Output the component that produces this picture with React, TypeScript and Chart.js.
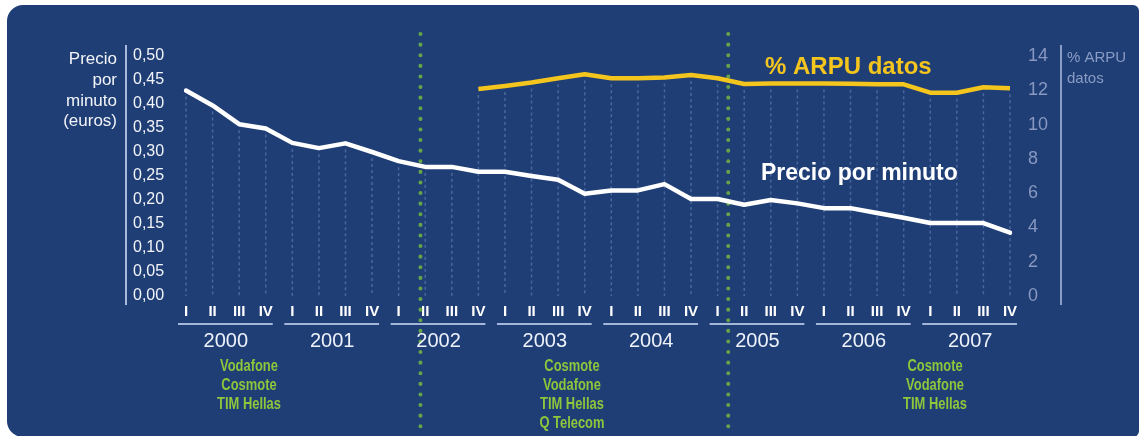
import React, { useEffect, useRef } from "react";
import { Chart, registerables } from "chart.js";

Chart.register(...registerables);

// ---- Data ----
const quarters = ["I", "II", "III", "IV"];
const years = ["2000", "2001", "2002", "2003", "2004", "2005", "2006", "2007"];

// Precio por minuto (euros), one value per quarter 2000 I .. 2007 IV
const pricePerMinute = [
  0.428, 0.397, 0.358, 0.349,
  0.319, 0.308, 0.318, 0.300,
  0.281, 0.269, 0.269, 0.259,
  0.259, 0.250, 0.242, 0.213,
  0.220, 0.220, 0.233, 0.202,
  0.202, 0.190, 0.200, 0.193,
  0.183, 0.183, 0.173, 0.163,
  0.152, 0.152, 0.152, 0.132,
];

// % ARPU datos, starts at 2002 IV
const arpuData = [
  null, null, null, null,
  null, null, null, null,
  null, null, null, 12.08,
  12.25, 12.45, 12.7, 12.93,
  12.7, 12.7, 12.75, 12.89,
  12.7, 12.37, 12.4, 12.4,
  12.4, 12.38, 12.35, 12.35,
  11.86, 11.86, 12.18, 12.12,
];

const leftAxisTitle = ["Precio", "por", "minuto", "(euros)"];
const rightAxisTitle = ["% ARPU", "datos"];
const arpuLabel = "% ARPU datos";
const priceLabel = "Precio por minuto";
const operatorGroups = [
  ["Vodafone", "Cosmote", "TIM Hellas"],
  ["Cosmote", "Vodafone", "TIM Hellas", "Q Telecom"],
  ["Cosmote", "Vodafone", "TIM Hellas"],
];

const categoryLabels = years.flatMap(() => quarters);

const FONT = "'Liberation Sans', Arial, Helvetica, sans-serif";
const BG = "#1f3e76";
const YELLOW = "#f4c51c";
const GREEN = "#8ec63c";

const decorPlugin = {
  id: "decor",
  beforeDraw(chart: any) {
    const { ctx } = chart;
    ctx.save();
    ctx.fillStyle = "#ffffff";
    ctx.fillRect(0, 0, chart.width, chart.height);
    ctx.fillStyle = BG;
    ctx.beginPath();
    ctx.roundRect(7, 5, 1132, 432, [16, 6, 6, 16]);
    ctx.fill();
    ctx.restore();
  },
  beforeDatasetsDraw(chart: any) {
    const { ctx, chartArea } = chart;
    const x = chart.scales.x;
    const yL = chart.scales.y;
    const yR = chart.scales.y2;
    ctx.save();
    // drop lines (dotted grid)
    ctx.strokeStyle = "rgba(140,165,215,0.4)";
    ctx.lineWidth = 1.5;
    ctx.setLineDash([3, 3]);
    for (let i = 0; i < categoryLabels.length; i++) {
      const px = x.getPixelForValue(i);
      let top = yL.getPixelForValue(pricePerMinute[i]);
      const a = arpuData[i];
      if (a !== null && a !== undefined) top = Math.min(top, yR.getPixelForValue(a));
      ctx.beginPath();
      ctx.moveTo(px, top + 6);
      ctx.lineTo(px, chartArea.bottom);
      ctx.stroke();
    }
    // green dotted separators
    ctx.strokeStyle = "rgba(105,170,70,0.95)";
    ctx.lineWidth = 4;
    ctx.lineCap = "round";
    ctx.setLineDash([0.1, 10.5]);
    [8.82, 20.4].forEach((v) => {
      const px = x.getPixelForValue(v);
      ctx.beginPath();
      ctx.moveTo(px, 34);
      ctx.lineTo(px, chart.height);
      ctx.stroke();
    });
    ctx.restore();
  },
  afterDraw(chart: any) {
    const { ctx } = chart;
    const x = chart.scales.x;
    ctx.save();
    // axis lines
    ctx.lineWidth = 2;
    ctx.strokeStyle = "#a9b9dc";
    ctx.beginPath();
    ctx.moveTo(126, 45);
    ctx.lineTo(126, 305);
    ctx.stroke();
    ctx.strokeStyle = "#8b9ec8";
    ctx.beginPath();
    ctx.moveTo(1061, 45);
    ctx.lineTo(1061, 305);
    ctx.stroke();

    // year underlines and labels
    years.forEach((yr, k) => {
      const a = x.getPixelForValue(k * 4);
      const b = x.getPixelForValue(k * 4 + 3);
      ctx.strokeStyle = "#a4b6da";
      ctx.lineWidth = 2;
      ctx.beginPath();
      ctx.moveTo(a - 8, 324);
      ctx.lineTo(b + 7, 324);
      ctx.stroke();
      ctx.fillStyle = "#eef2fa";
      ctx.font = `20px ${FONT}`;
      ctx.textAlign = "center";
      ctx.textBaseline = "middle";
      ctx.fillText(yr, (a + b) / 2, 341);
    });

    // operator groups (condensed bold green)
    const groupPos = [2.37, 14.52, 28.18];
    ctx.fillStyle = GREEN;
    ctx.font = `bold 17px ${FONT}`;
    ctx.textAlign = "center";
    ctx.textBaseline = "middle";
    operatorGroups.forEach((g, gi) => {
      const cx = x.getPixelForValue(groupPos[gi]);
      g.forEach((t, li) => {
        ctx.save();
        ctx.translate(cx, 366.5 + li * 19);
        ctx.scale(0.76, 1);
        ctx.fillText(t, 0, 0);
        ctx.restore();
      });
    });

    // left axis title
    ctx.fillStyle = "#f2f4f8";
    ctx.font = `17px ${FONT}`;
    ctx.textAlign = "right";
    ctx.textBaseline = "alphabetic";
    const lb = [64, 85, 106, 126];
    leftAxisTitle.forEach((t, i) => ctx.fillText(t, 117, lb[i]));

    // right axis title
    ctx.fillStyle = "#8a9cc4";
    ctx.font = `15px ${FONT}`;
    ctx.textAlign = "left";
    ctx.fillText(rightAxisTitle[0], 1067, 62);
    ctx.fillText(rightAxisTitle[1], 1067, 83);

    // series annotations
    ctx.fillStyle = YELLOW;
    ctx.font = `bold 24px ${FONT}`;
    ctx.fillText(arpuLabel, 765, 74);
    ctx.fillStyle = "#ffffff";
    ctx.font = `bold 23px ${FONT}`;
    ctx.fillText(priceLabel, 761, 180);
    ctx.restore();
  },
};

export default function App() {
  const ref = useRef<HTMLCanvasElement | null>(null);
  useEffect(() => {
    if (!ref.current) return;
    const chart = new Chart(ref.current, {
      type: "line",
      data: {
        labels: categoryLabels,
        datasets: [
          {
            label: priceLabel,
            data: pricePerMinute,
            yAxisID: "y",
            borderColor: "#ffffff",
            borderWidth: 4.5,
            pointRadius: 0,
            tension: 0,
            borderJoinStyle: "round",
            borderCapStyle: "round",
          },
          {
            label: arpuLabel,
            data: arpuData,
            yAxisID: "y2",
            borderColor: YELLOW,
            borderWidth: 4.5,
            pointRadius: 0,
            tension: 0,
            spanGaps: false,
            borderJoinStyle: "round",
          },
        ],
      },
      options: {
        responsive: false,
        animation: false,
        layout: { padding: { top: 56, left: 133, right: 0, bottom: 0 } },
        plugins: { legend: { display: false }, tooltip: { enabled: false } },
        scales: {
          x: {
            type: "category",
            offset: false,
            grid: { display: false, drawTicks: false },
            border: { display: false },
            ticks: {
              autoSkip: false,
              maxRotation: 0,
              minRotation: 0,
              padding: 7,
              color: "#ffffff",
              font: { family: FONT, size: 15, weight: "bold" },
            },
            afterFit: (s: any) => {
              s.height = 140;
            },
          },
          y: {
            position: "left",
            min: 0,
            max: 0.5,
            grid: { display: false, drawTicks: false },
            border: { display: false },
            ticks: {
              stepSize: 0.05,
              crossAlign: "far",
              padding: 0,
              color: "#f2f4f8",
              font: { family: FONT, size: 16 },
              callback: (v: any) => Number(v).toFixed(2).replace(".", ","),
            },
            afterFit: (s: any) => {
              s.width = 53;
            },
          },
          y2: {
            position: "right",
            min: 0,
            max: 14,
            grid: { display: false, drawTicks: false },
            border: { display: false },
            ticks: {
              stepSize: 2,
              crossAlign: "near",
              padding: 18,
              color: "#8898c0",
              font: { family: FONT, size: 18 },
            },
            afterFit: (s: any) => {
              s.width = 132;
            },
          },
        },
      },
      plugins: [decorPlugin],
    });
    return () => chart.destroy();
  }, []);
  return (
    <div style={{ position: "absolute", left: 0, top: 0, width: 1142, height: 436 }}>
      <canvas ref={ref} width={1142} height={436} style={{ display: "block", width: 1142, height: 436 }} />
    </div>
  );
}
